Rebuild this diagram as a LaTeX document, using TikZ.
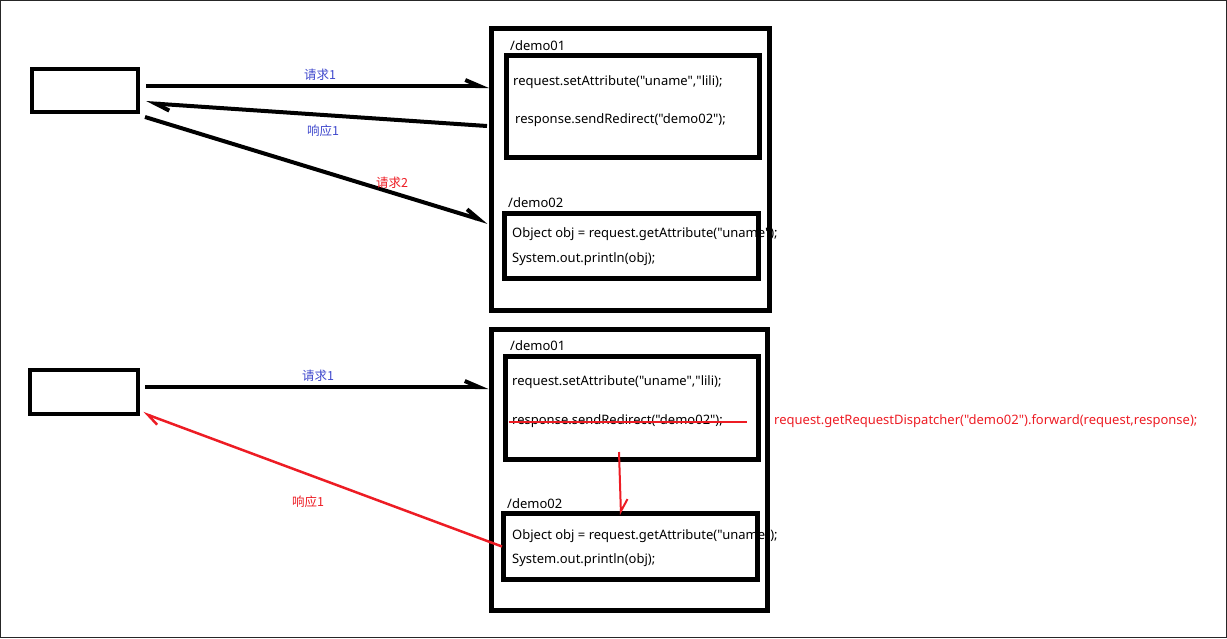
\documentclass[tikz,border=0pt]{standalone}
\usepackage{fontspec}
\setmainfont{Noto Sans}[Ligatures=TeXOff]
\newfontfamily\cjk{Noto Sans CJK SC}
\usetikzlibrary{arrows.meta,calc}
\definecolor{pred}{RGB}{237,28,36}
\definecolor{pblue}{RGB}{63,72,204}
\begin{document}
\begin{tikzpicture}[x=1pt,y=-1pt,
  client/.style={draw,line width=4pt,inner sep=0pt},
  server/.style={draw,line width=5pt,inner sep=0pt},
  code/.style={anchor=west,inner sep=0pt,font=\fontsize{13}{15}\selectfont},
  lbl/.style={inner sep=0pt,font=\cjk\fontsize{12.5}{14}\selectfont},
  barb/.tip={Straight Barb[harpoon,length=14pt,width=12pt]},
  arr/.style={line width=4pt,-barb},
  rarr/.style={pred,line width=2.5pt,-{Straight Barb[harpoon,length=12pt,width=12pt]}}]
\useasboundingbox (0,0) rectangle (1227,638);
\draw[line width=1pt,black!85] (0.5,0.5) rectangle (1226.5,637.5);

% ---------- top ----------
\node[client,minimum width=106pt,minimum height=43pt] (c1) at (85,90.5) {};
\node[server,minimum width=278pt,minimum height=282pt] (srv1) at (630.5,169.5) {};
\node[code] (t1a) at (510,46) {/demo01};
\node[code] (t1b) at (513,82) {request.setAttribute("uname","lili);};
\node[code] (t1c) at (515,120) {response.sendRedirect("demo02");};
\node[code] (t1d) at (508,203) {/demo02};
\node[code] (t1e) at (512,234) {Object obj = request.getAttribute("uname");};
\node[code] (t1f) at (512,259) {System.out.println(obj);};
\node[server,minimum width=253pt,minimum height=102pt] (d1a) at (633,106.5) {};
\node[server,minimum width=254pt,minimum height=65pt] (d2a) at (631.5,246) {};

\draw[arr] ($(c1.east)+(6,-4.5)$) -- ($(srv1.west)+(0,-83.5)$);
\draw[arr] ($(srv1.west)+(-2,-43.5)$) -- ($(c1.east)+(6,12.5)$);
\draw[arr] ($(c1.east)+(5,26.5)$) -- ($(srv1.west)+(-1,52.5)$);
\node[lbl,text=pblue] (l1) at (320,75) {请求1};
\node[lbl,text=pblue] (l2) at (323,131) {响应1};
\node[lbl,text=pred] (l3) at (392,183) {请求2};

% ---------- bottom ----------
\node[client,minimum width=108pt,minimum height=44pt] (c2) at (84,392) {};
\node[server,minimum width=276pt,minimum height=281.5pt] (srv2) at (629,470) {};
\node[code] (t2a) at (510,346) {/demo01};
\node[code] (t2b) at (512,382) {request.setAttribute("uname","lili);};
\node[code] (t2c) at (512,421) {response.sendRedirect("demo02");};
\node[code] (t2d) at (507,504) {/demo02};
\node[code] (t2e) at (512,536) {Object obj = request.getAttribute("uname");};
\node[code] (t2f) at (512,560) {System.out.println(obj);};
\node[code,text=pred] (t2g) at (774,421) {request.getRequestDispatcher("demo02").forward(request,response);};
\node[server,minimum width=253pt,minimum height=103pt] (d1b) at (631.5,408) {};
\node[server,minimum width=254pt,minimum height=66pt] (d2b) at (630.5,546.5) {};

\draw[pred,line width=1.5pt] ($(d1b.west)+(6,14)$) -- ($(d1b.east)+(-13.5,14)$);
\draw[arr] ($(c2.east)+(5,-5)$) -- ($(srv2.west)+(0,-83)$);
\node[lbl,text=pblue] (l4) at (318,376) {请求1};
\draw[rarr] ($(d2b.west)+(1,0)$) -- ($(c2.east)+(3,21)$);
\node[lbl,text=pred] (l5) at (308,502) {响应1};
\draw[pred,line width=2pt,-{Straight Barb[harpoon,length=12pt,width=14pt]}] ($(d1b.south)+(-12.5,-10)$) -- ($(d2b.north)+(-9.5,4)$);
\end{tikzpicture}
\end{document}
